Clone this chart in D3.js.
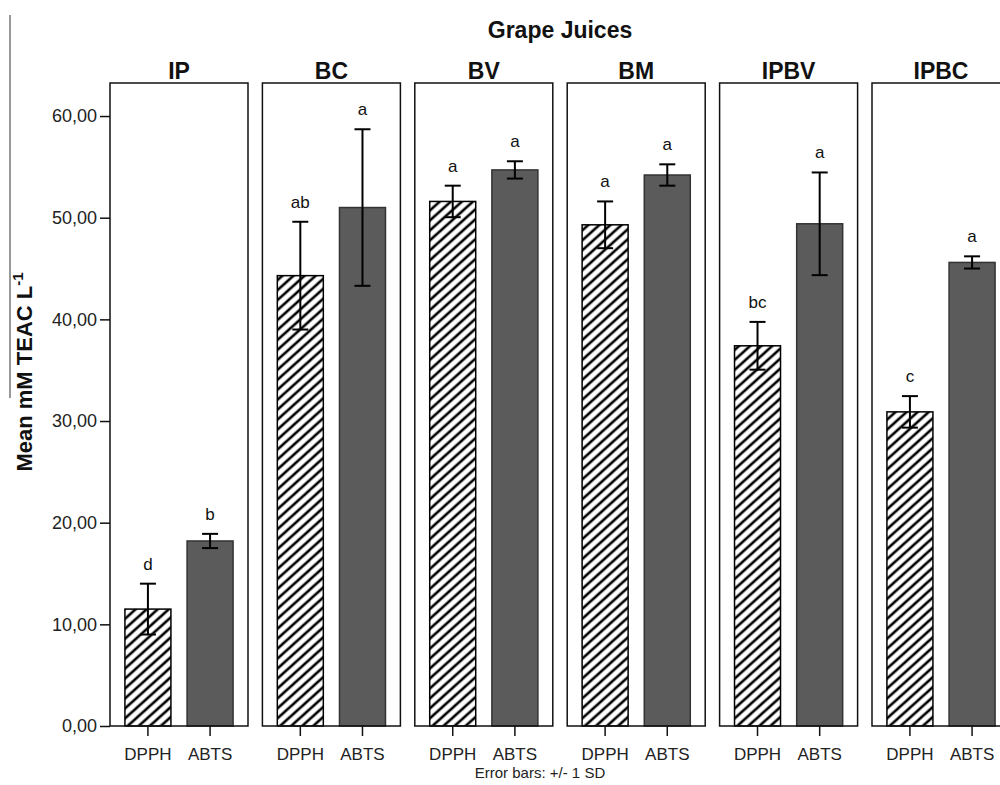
<!DOCTYPE html>
<html>
<head>
    <title>Grape Juices</title>
    <script src='https://d3js.org/d3.v7.min.js'></script>
    <style>
        html, body {
            margin: 0;
            background: white;
            font-family: Arial, 'Liberation Sans', Helvetica, sans-serif;
        }
        .tick text {font-family: Arial, 'Liberation Sans', sans-serif;}
    </style>
</head>
<body>
<div id="vis"></div>
<script>

// data (mean mM TEAC per litre, +/- 1 SD)
var groups = ["IP", "BC", "BV", "BM", "IPBV", "IPBC"];
var methods = ["DPPH", "ABTS"];
var dpph_mean = [11.5, 44.3, 51.6, 49.3, 37.4, 30.9];
var dpph_sd = [2.5, 5.3, 1.55, 2.3, 2.35, 1.55];
var abts_mean = [18.2, 51.0, 54.7, 54.2, 49.4, 45.6];
var abts_sd = [0.7, 7.7, 0.85, 1.05, 5.05, 0.6];
var dpph_letters = ["d", "ab", "a", "a", "bc", "c"];
var abts_letters = ["b", "a", "a", "a", "a", "a"];
var y_ticks = [0, 10, 20, 30, 40, 50, 60];

var width = 1000, height = 785;
var svg = d3.select('#vis').append('svg')
    .attr('width', width)
    .attr('height', height);

// hatch for DPPH bars
var defs = svg.append('defs');
defs.append('pattern')
    .attr('id', 'hatch')
    .attr('patternUnits', 'userSpaceOnUse')
    .attr('width', 10)
    .attr('height', 7.4)
    .attr('patternTransform', 'rotate(-42)')
    .append('line')
    .attr('x1', -1).attr('x2', 11)
    .attr('y1', 3.7).attr('y2', 3.7)
    .attr('stroke', '#000')
    .attr('stroke-width', 2.6);

var panel_x = d3.scaleBand().domain(groups).range([110, 1010]).paddingInner(0.0945).paddingOuter(0);
var bar_x = d3.scaleBand().domain(methods).range([0, panel_x.bandwidth()]).paddingInner(0.26).paddingOuter(0.24);
var y_scale = d3.scaleLinear().domain([0, 63.25]).range([726, 83]);

// rows for each bar
var rows = [];
groups.forEach(function(g, i) {
    rows.push({group: g, method: "DPPH", mean: dpph_mean[i], sd: dpph_sd[i], letter: dpph_letters[i]});
    rows.push({group: g, method: "ABTS", mean: abts_mean[i], sd: abts_sd[i], letter: abts_letters[i]});
});

// stray grey rule at the far left of the original
svg.append('line')
    .attr('x1', 10).attr('x2', 10)
    .attr('y1', 15).attr('y2', 398)
    .attr('stroke', '#777').attr('stroke-width', 1.5);

svg.append('text')
    .attr('x', 560).attr('y', 38)
    .attr('text-anchor', 'middle')
    .attr('font-size', 23).attr('font-weight', 'bold')
    .attr('fill', '#111')
    .text('Grape Juices');

// y axis label
var ylab = svg.append('text')
    .attr('transform', 'translate(32,372) rotate(-90)')
    .attr('text-anchor', 'middle')
    .attr('font-size', 22).attr('font-weight', 'bold')
    .attr('fill', '#111');
ylab.append('tspan').text('Mean mM TEAC L');
ylab.append('tspan').attr('dy', -9).attr('font-size', 15).text('-1');

// y axis on the first panel
var y_axis = svg.append('g')
    .attr('transform', 'translate(' + panel_x(groups[0]) + ',0)')
    .call(d3.axisLeft(y_scale).tickValues(y_ticks).tickSize(10).tickSizeOuter(0)
        .tickFormat(function(d) { return d3.format('.2f')(d).replace('.', ','); }));
y_axis.select('.domain').remove();
y_axis.selectAll('line').attr('stroke', '#111').attr('stroke-width', 1.5);
y_axis.selectAll('text').attr('font-size', 18).attr('fill', '#222').attr('x', -13);

groups.forEach(function(g) {
    var px = panel_x(g);
    var pg = svg.append('g').attr('transform', 'translate(' + px + ',0)');

    pg.append('text')
        .attr('x', panel_x.bandwidth() / 2).attr('y', 79)
        .attr('text-anchor', 'middle')
        .attr('font-size', 23).attr('font-weight', 'bold')
        .attr('fill', '#111')
        .text(g);

    var data = rows.filter(function(d) { return d.group == g; });

    pg.selectAll('.bar').data(data).enter().append('rect')
        .attr('class', 'bar')
        .attr('x', function(d) { return bar_x(d.method); })
        .attr('y', function(d) { return y_scale(d.mean); })
        .attr('width', bar_x.bandwidth())
        .attr('height', function(d) { return y_scale(0) - y_scale(d.mean); })
        .attr('fill', function(d) { return d.method == "DPPH" ? 'url(#hatch)' : '#5b5b5b'; })
        .attr('stroke', function(d) { return d.method == "DPPH" ? '#000' : '#333'; })
        .attr('stroke-width', 1.5);

    // error bars
    var eb = pg.selectAll('.err').data(data).enter().append('g').attr('class', 'err')
        .attr('stroke', '#000').attr('stroke-width', 2);
    eb.append('line')
        .attr('x1', function(d) { return bar_x(d.method) + bar_x.bandwidth() / 2; })
        .attr('x2', function(d) { return bar_x(d.method) + bar_x.bandwidth() / 2; })
        .attr('y1', function(d) { return y_scale(d.mean - d.sd); })
        .attr('y2', function(d) { return y_scale(d.mean + d.sd); });
    [1, -1].forEach(function(s) {
        eb.append('line')
            .attr('x1', function(d) { return bar_x(d.method) + bar_x.bandwidth() / 2 - 8; })
            .attr('x2', function(d) { return bar_x(d.method) + bar_x.bandwidth() / 2 + 8; })
            .attr('y1', function(d) { return y_scale(d.mean + s * d.sd); })
            .attr('y2', function(d) { return y_scale(d.mean + s * d.sd); });
    });

    pg.selectAll('.letter').data(data).enter().append('text')
        .attr('class', 'letter')
        .attr('x', function(d) { return bar_x(d.method) + bar_x.bandwidth() / 2; })
        .attr('y', function(d) { return y_scale(d.mean + d.sd) - 14; })
        .attr('text-anchor', 'middle')
        .attr('font-size', 17).attr('fill', '#111')
        .text(function(d) { return d.letter; });

    // panel frame
    pg.append('rect')
        .attr('x', 0).attr('y', y_scale(63.25))
        .attr('width', panel_x.bandwidth())
        .attr('height', y_scale(0) - y_scale(63.25))
        .attr('fill', 'none')
        .attr('stroke', '#111').attr('stroke-width', 1.5);

    var x_axis = pg.append('g')
        .attr('transform', 'translate(0,' + y_scale(0) + ')')
        .call(d3.axisBottom(bar_x).tickSize(10).tickSizeOuter(0));
    x_axis.select('.domain').remove();
    x_axis.selectAll('line').attr('stroke', '#111').attr('stroke-width', 1.5);
    x_axis.selectAll('text').attr('font-size', 17).attr('fill', '#222').attr('dy', '1.25em');
});

svg.append('text')
    .attr('x', 540).attr('y', 778)
    .attr('text-anchor', 'middle')
    .attr('font-size', 15).attr('fill', '#222')
    .text('Error bars: +/- 1 SD');

</script>
</body>
</html>
